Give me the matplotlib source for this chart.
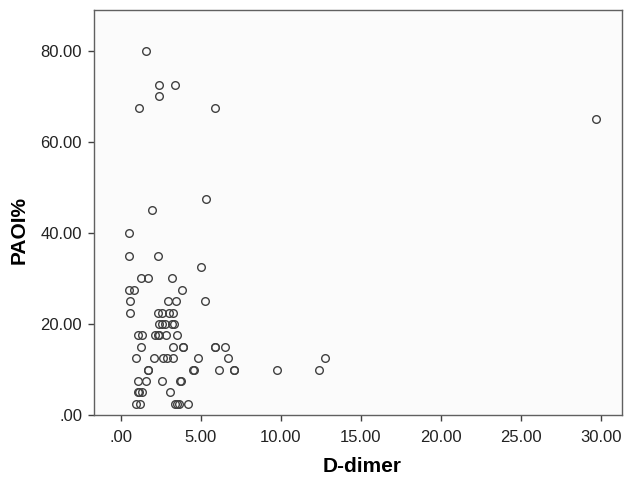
import numpy as np
import matplotlib.pyplot as plt
from matplotlib.ticker import FuncFormatter

plt.rcParams['font.family'] = ['Liberation Sans', 'DejaVu Sans']

# D-dimer (x) and PAOI% (y)
d_dimer = [1.6, 2.37, 3.4, 2.37, 1.16, 5.87, 29.7, 5.35, 1.96, 0.52,
           0.52, 2.35, 5.04,
           1.25, 1.73, 3.19,
           0.54, 0.83, 3.83,
           0.6, 2.93, 3.48, 5.27,
           0.56, 2.33, 2.58, 3.04, 3.29,
           2.37, 2.6, 2.75, 3.2, 3.3,
           1.06, 1.33, 2.16, 2.33, 2.41, 2.83, 3.52,
           1.25, 3.25, 3.88, 3.92, 5.88, 5.92, 6.52,
           0.98, 2.08, 2.66, 2.91, 3.25, 4.81, 6.7, 12.77,
           1.69, 1.73, 4.5, 4.55, 6.12, 7.06, 7.1, 9.75, 12.37,
           1.06, 1.6, 2.56, 3.68, 3.77,
           1.06, 1.16, 1.31, 3.08,
           0.96, 1.21, 3.37, 3.5, 3.62, 4.23]
paoi = [80, 72.5, 72.5, 70, 67.5, 67.5, 65, 47.5, 45, 40,
        35, 35, 32.5,
        30, 30, 30,
        27.5, 27.5, 27.5,
        25, 25, 25, 25,
        22.5, 22.5, 22.5, 22.5, 22.5,
        20, 20, 20, 20, 20,
        17.5, 17.5, 17.5, 17.5, 17.5, 17.5, 17.5,
        15, 15, 15, 15, 15, 15, 15,
        12.5, 12.5, 12.5, 12.5, 12.5, 12.5, 12.5, 12.5,
        10, 10, 10, 10, 10, 10, 10, 10, 10,
        7.5, 7.5, 7.5, 7.5, 7.5,
        5, 5, 5, 5,
        2.5, 2.5, 2.5, 2.5, 2.5, 2.5]

x_ticks = [0, 5, 10, 15, 20, 25, 30]
y_ticks = [0, 20, 40, 60, 80]

fig = plt.figure(figsize=(6.26, 4.79), dpi=100)
ax = fig.add_axes([0.150, 0.1336, 0.8436, 0.8455])
ax.set_facecolor('#fbfbfb')

ax.plot(d_dimer, paoi, linestyle='none', marker='o', markersize=5.5,
        markerfacecolor='none', markeredgecolor='#404040', markeredgewidth=1.0)

ax.set_xlim(-1.67, 31.3)
ax.set_ylim(0, 89)
ax.set_xticks(x_ticks)
ax.set_yticks(y_ticks)

fmt = FuncFormatter(lambda v, p: ('%.2f' % v).lstrip('0') if v < 1 else '%.2f' % v)
ax.xaxis.set_major_formatter(fmt)
ax.yaxis.set_major_formatter(fmt)

for s in ax.spines.values():
    s.set_color('#606060')
    s.set_linewidth(1.0)
ax.tick_params(direction='out', length=4.5, width=1, color='#404040',
               labelsize=12, labelcolor='#222222')
ax.tick_params(axis='x', pad=6)
ax.tick_params(axis='y', pad=4)

ax.set_xlabel('D-dimer', fontsize=15, fontweight='bold', va='center')
ax.set_ylabel('PAOI%', fontsize=15, fontweight='bold', va='center')
ax.xaxis.set_label_coords(0.508, -0.128)
ax.yaxis.set_label_coords(-0.142, 0.457)

fig.savefig('out.png', dpi=100)
